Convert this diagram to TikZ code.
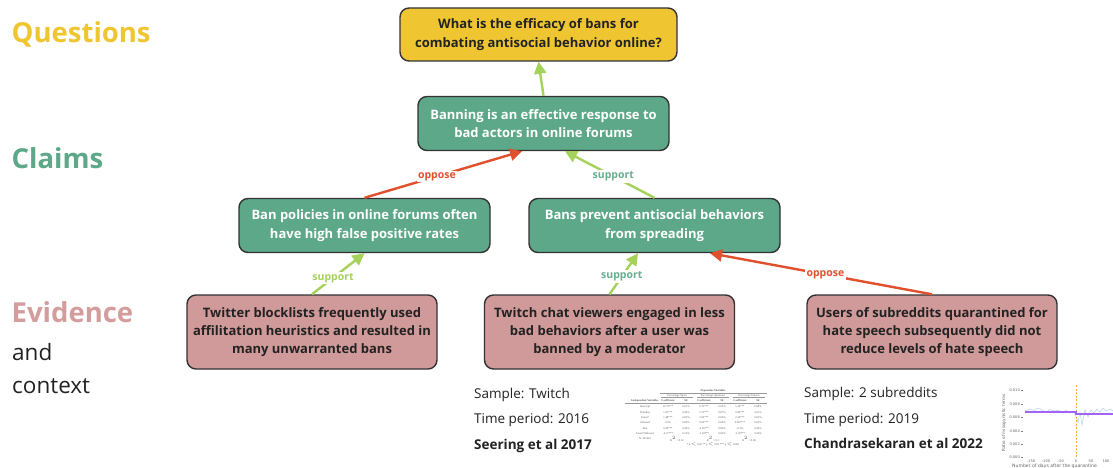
\documentclass[tikz,border=0pt]{standalone}
\usepackage{fontspec}
\setmainfont{Open Sans}
\newfontfamily\tabfont{Liberation Serif}
\newfontfamily\plotfont{DejaVu Sans}
\usetikzlibrary{arrows.meta}
\definecolor{qyellow}{HTML}{EFC631}
\definecolor{cgreen}{HTML}{5DA889}
\definecolor{epink}{HTML}{CF9A99}
\definecolor{lpink}{HTML}{D49D9D}
\definecolor{bordergray}{HTML}{333333}
\definecolor{textdark}{HTML}{222222}
\definecolor{oppred}{HTML}{E0502C}
\definecolor{lime}{HTML}{A5D25A}
\definecolor{tealtxt}{HTML}{66AF8F}
\definecolor{plotpurple}{HTML}{A463F7}
\definecolor{plotorange}{HTML}{F2B13C}
\definecolor{plotblue}{HTML}{B9D3EE}
\begin{document}
\begin{tikzpicture}[x=1pt,y=-1pt,
  box/.style={draw=bordergray, line width=1.4pt, rounded corners=9pt, align=center,
    font=\bfseries\fontsize{13}{18.5}\selectfont, inner sep=0pt},
  qbox/.style={box, fill=qyellow, text=textdark, minimum width=277pt, minimum height=53pt},
  cbox/.style={box, fill=cgreen, text=white, minimum width=251pt, minimum height=54pt},
  ebox/.style={box, fill=epink, text=textdark, minimum width=250pt, minimum height=74pt, font=\bfseries\fontsize{13}{18}\selectfont},
  edge/.style={line width=2.4pt, -{Triangle[length=12pt,width=12pt]}},
  supp/.style={edge, draw=lime},
  opp/.style={edge, draw=oppred},
  elab/.style={font=\bfseries\fontsize{10.5}{12}\selectfont, fill=white, inner sep=1.5pt},
  side/.style={anchor=base west, inner sep=0pt, font=\bfseries\fontsize{27.5}{30}\selectfont},
  ctx/.style={anchor=base west, inner sep=0pt, text=textdark, font=\fontsize{22.5}{26}\selectfont},
  meta/.style={anchor=base west, inner sep=0pt, text=textdark, font=\fontsize{13.5}{16}\selectfont},
  metab/.style={meta, font=\bfseries\fontsize{13.5}{16}\selectfont},
  tab/.style={inner sep=0pt, text=black!65, font=\tabfont\fontsize{2.8}{3}\selectfont},
  tabb/.style={tab, font=\tabfont\bfseries\fontsize{2.8}{3}\selectfont},
  tick/.style={inner sep=0pt, text=black!60, font=\plotfont\fontsize{3.6}{4}\selectfont}
]
\clip (0,0) rectangle (1113,468);
\fill[white] (0,0) rectangle (1113,468);

% side labels
\node[side, text=qyellow] (lq) at (11.5,43) {Questions};
\node[side, text=cgreen] (lc) at (11.5,168) {Claims};
\node[side, text=lpink] (le) at (11.5,322) {Evidence};
\node[ctx] (land) at (12,360) {and};
\node[ctx] (lctx) at (12,393) {context};

% nodes
\node[qbox] (q) at (538.5,34.5) {What is the efficacy of bans for\\combating antisocial behavior online?};
\node[cbox] (ct) at (543.5,123.5) {Banning is an effective response to\\bad actors in online forums};
\node[cbox] (cl) at (364.5,225.5) {Ban policies in online forums often\\have high false positive rates};
\node[cbox] (cr) at (654.5,225.5) {Bans prevent antisocial behaviors\\from spreading};
\node[ebox] (el) at (312,332) {Twitter blocklists frequently used\\affilitation heuristics and resulted in\\many unwarranted bans};
\node[ebox] (em) at (609.5,332) {Twitch chat viewers engaged in less\\bad behaviors after a user was\\banned by a moderator};
\node[ebox] (er) at (932,332) {Users of subreddits quarantined for\\hate speech subsequently did not\\reduce levels of hate speech};

% connectors
\draw[supp] (ct.north) -- (q.south);
\draw[opp] (cl.north) -- node[elab, text=oppred, pos=0.46] {oppose} ([xshift=-21.5pt]ct.south);
\draw[supp] (cr.north) -- node[elab, text=tealtxt, pos=0.46] {support} ([xshift=21.5pt]ct.south);
\draw[supp] (el.north) -- node[elab, text=lime, pos=0.4] {support} (cl.south);
\draw[supp] (em.north) -- node[elab, text=tealtxt, pos=0.43] {support} ([xshift=-16.5pt]cr.south);
\draw[opp] (er.north) -- node[elab, text=oppred, pos=0.48] {oppose} ([xshift=55.5pt]cr.south);

% context texts
\node[meta] (s1) at (474,398) {Sample: Twitch};
\node[meta] (t1) at (474,423) {Time period: 2016};
\node[metab] (r1) at (474,449) {Seering et al 2017};
\node[meta] (s2) at (804,397) {Sample: 2 subreddits};
\node[meta] (t2) at (804,423) {Time period: 2019};
\node[metab] (r2) at (804,448) {Chandrasekaran et al 2022};

% table thumbnail
\begin{scope}
\node[tabb] (tdv) at (713,391) {Dependent Variables};
\draw[black!40, line width=0.3pt] (660,393.5) -- (767,393.5);
\node[tab] at (677,395.5) {Percentage Spam};
\node[tab] at (713,395.5) {Percentage Questions};
\node[tab] at (749,395.5) {Percentage Emotes};
\draw[black!40, line width=0.3pt] (661,397.5) -- (693,397.5) (697,397.5) -- (729,397.5) (733,397.5) -- (765,397.5);
\node[tabb] at (645,401) {Independent Variables};
\foreach \x in {668,704,740} \node[tabb] at (\x,401) {Coefficient};
\foreach \x in {686,722,758} \node[tabb] at (\x,401) {SE};
\draw[black!40, line width=0.3pt] (625,403.5) -- (767,403.5);
\foreach \lab/\y/\a/\b/\c/\d/\e/\f in {
  Intercept/407/12.79***/0.01\%/6.75***/0.03\%/5.19***/0.08\%,
  Timeline/412.5/1.91***/0.00\%/2.71***/0.07\%/2.90***/0.01\%,
  Event?/418/1.48***/0.02\%/2.05***/0.02\%/2.20***/0.03\%,
  Allowed/423/0.3\%/0.00\%/0.03***/0.00\%/0.067***/0.02\%,
  Ban/428.5/0.30***/0.00\%/-0.25***/0.00\%/-0.1\%/0.00\%,
  Event*Allowed/434/-4.71***/0.12\%/-1.03***/0.02\%/-2.20***/0.20\%}{
  \node[tab] at (645,\y) {\lab};
  \node[tab] at (668,\y) {\a}; \node[tab] at (686,\y) {\b};
  \node[tab] at (704,\y) {\c}; \node[tab] at (722,\y) {\d};
  \node[tab] at (740,\y) {\e}; \node[tab] at (758,\y) {\f};
}
\node[tab] at (645,439) {N: 241416};
\node[tab] at (677,439) {R$^2$ = 0.41};
\node[tab] at (713,439) {R$^2$ = 0.1};
\node[tab] at (749,439) {R$^2$ = 0.06};
\node[tab] at (713,444) {* p $<$ 0.05 ** p $<$ 0.01 *** p $<$ 0.001};
\end{scope}

% chart thumbnail
\begin{scope}
\foreach \v/\y in {0.010/390,0.008/404,0.006/417,0.004/431,0.002/444,0.000/457}{
  \node[tick, anchor=east] at (1020,\y) {\v};
  \draw[black!50, line width=0.3pt] (1020.5,\y) -- (1022.5,\y);
}
\foreach \v/\x in {-150/1031,-100/1046,-50/1061,0/1076,50/1091,100/1106}{
  \node[tick] at (\x,461.5) {\v};
}
\node[tick, font=\plotfont\fontsize{4.6}{5}\selectfont, anchor=west] (xl) at (1012,466) {Number of days after the quarantine};
\node[tick, font=\plotfont\fontsize{4.2}{5}\selectfont, rotate=90] (yl) at (1004,423) {Ratio of misogynistic terms};
\draw[plotblue, line width=0.6pt] (1025,411) -- (1030,409) -- (1034,410.5) -- (1038,408) -- (1042,410) -- (1046,412) -- (1050,409.5) -- (1054,411) -- (1058,410) -- (1062,412) -- (1066,410.5) -- (1070,413) -- (1073,411) -- (1076,416) -- (1078,422) -- (1080,412) -- (1082,425) -- (1085,410) -- (1088,417) -- (1091,410) -- (1094,413) -- (1097,409) -- (1100,412) -- (1103,408) -- (1106,411) -- (1110,409) -- (1113,411);
\draw[plotorange, line width=1pt, dash pattern=on 2pt off 1.5pt] (1076,385) -- (1076,457);
\draw[plotpurple, line width=2pt] (1025,411.5) -- (1076,411.5) -- (1076,413.5) -- (1113,413.5);
\end{scope}
\end{tikzpicture}
\end{document}
